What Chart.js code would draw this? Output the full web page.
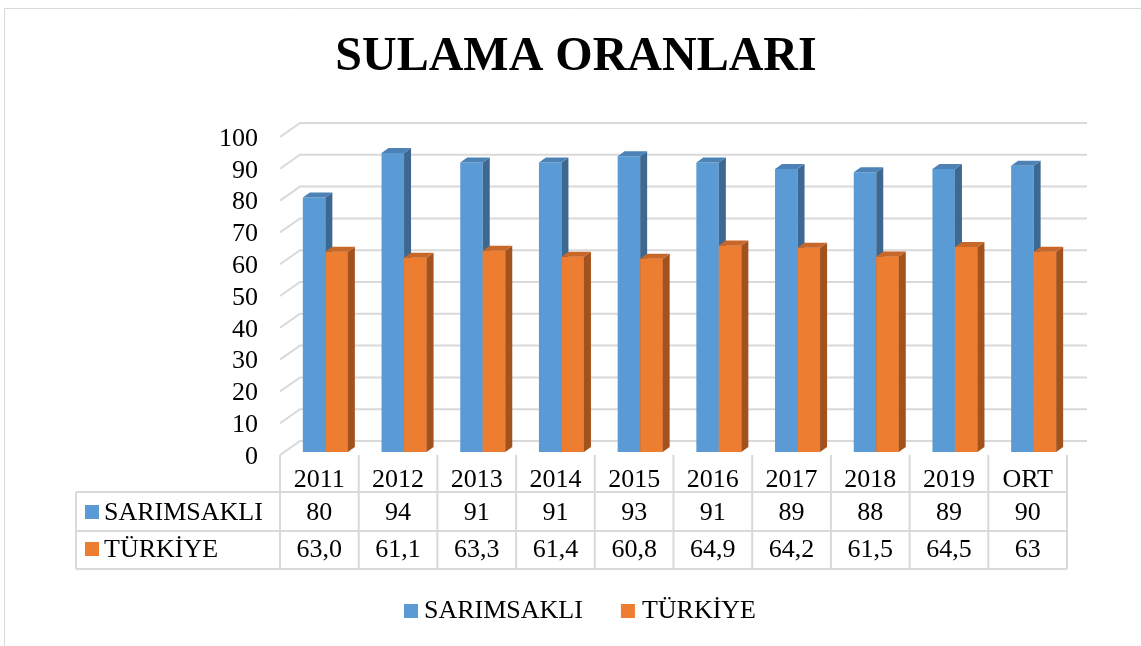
<!DOCTYPE html>
<html>
<head>
<meta charset="utf-8">
<script src="https://cdn.jsdelivr.net/npm/chart.js@4.4.0/dist/chart.umd.min.js"></script>
<style>
  body { margin: 0; background: #fff; }
</style>
</head>
<body>
<canvas id="chartSulama" width="1141" height="646"></canvas>
<script>
  /* Sulama Oranlari */
  const categories = ['2011', '2012', '2013', '2014', '2015', '2016', '2017', '2018', '2019', 'ORT'];
  const sarimsakli = [80, 94, 91, 91, 93, 91, 89, 88, 89, 90];
  const turkiye = [63.0, 61.1, 63.3, 61.4, 60.8, 64.9, 64.2, 61.5, 64.5, 63];
  const turkiyeDigits = [1, 1, 1, 1, 1, 1, 1, 1, 1, 0];
  const yTicks = [0, 10, 20, 30, 40, 50, 60, 70, 80, 90, 100];
  const seriesNames = ['SARIMSAKLI', 'TÜRKİYE'];

  const frontColors = ['#5B9BD5', '#ED7D31'];
  const sideColors = ['#3D6891', '#A2521D'];
  const topColors = ['#4D82B6', '#C8672A'];
  const gridColor = '#D9D9D9';
  const serif = "'Liberation Serif', 'Times New Roman', serif";

  const fmt = (v, d) => v.toFixed(d).replace('.', ',');
  const tableRows = [
    sarimsakli.map((v) => fmt(v, 0)),
    turkiye.map((v, i) => fmt(v, turkiyeDigits[i])),
  ];

  // offsets of the fake 3d look
  const shift = { x: 6, y: -2 };
  const depth = { x: 7, y: -5 };
  const wall = { x: 20, y: -14 };

  const drawFaces = (ctx, meta, i) => {
    meta.data.forEach((bar) => {
      const p = bar.getProps(['x', 'y', 'base', 'width'], true);
      const left = p.x - p.width / 2;
      const right = p.x + p.width / 2;
      ctx.fillStyle = sideColors[i];
      ctx.beginPath();
      ctx.moveTo(right, p.y);
      ctx.lineTo(right + depth.x, p.y + depth.y);
      ctx.lineTo(right + depth.x, p.base + depth.y);
      ctx.lineTo(right, p.base);
      ctx.closePath();
      ctx.fill();
      ctx.fillStyle = topColors[i];
      ctx.beginPath();
      ctx.moveTo(left, p.y);
      ctx.lineTo(left + depth.x, p.y + depth.y);
      ctx.lineTo(right + depth.x, p.y + depth.y);
      ctx.lineTo(right, p.y);
      ctx.closePath();
      ctx.fill();
    });
  };

  const sulama3d = {
    id: 'sulama3d',
    beforeDraw(chart) {
      const ctx = chart.ctx;
      const area = chart.chartArea;
      const y = chart.scales.y;
      ctx.save();
      // marco
      ctx.strokeStyle = gridColor;
      ctx.lineWidth = 1;
      ctx.beginPath();
      ctx.moveTo(4.5, 646);
      ctx.lineTo(4.5, 8.5);
      ctx.lineTo(1141, 8.5);
      ctx.stroke();
      // titulo
      ctx.fillStyle = '#000';
      ctx.font = 'bold 48px ' + serif;
      ctx.textAlign = 'center';
      ctx.textBaseline = 'middle';
      ctx.fillText('SULAMA ORANLARI', 576, 58);
      // lineas de la pared
      ctx.strokeStyle = gridColor;
      ctx.lineWidth = 2;
      yTicks.forEach((v) => {
        const py = y.getPixelForValue(v) + 1;
        ctx.beginPath();
        ctx.moveTo(area.left, py);
        ctx.lineTo(area.left + wall.x, py + wall.y);
        ctx.lineTo(area.right + wall.x, py + wall.y);
        ctx.stroke();
      });
      ctx.restore();
    },
    beforeDatasetsDraw(chart) {
      chart.ctx.save();
      chart.ctx.translate(shift.x, shift.y);
    },
    afterDatasetsDraw(chart) {
      const ctx = chart.ctx;
      const metaBlue = chart.getDatasetMeta(0);
      const metaOrange = chart.getDatasetMeta(1);
      // caras del azul, luego se vuelve a pintar el naranja encima
      drawFaces(ctx, metaBlue, 0);
      metaOrange.data.forEach((bar) => bar.draw(ctx));
      drawFaces(ctx, metaOrange, 1);
      ctx.restore();
    },
    afterDraw(chart) {
      const ctx = chart.ctx;
      const area = chart.chartArea;
      const x = chart.scales.x;
      const colW = (area.right - area.left) / categories.length;
      const tableLeft = 76;
      const lines = [area.bottom + 1, area.bottom + 38, area.bottom + 77, area.bottom + 115];
      const baselines = [487, 520, 557];

      ctx.save();
      ctx.strokeStyle = gridColor;
      ctx.lineWidth = 2;
      // horizontales
      for (let r = 1; r < lines.length; r++) {
        ctx.beginPath();
        ctx.moveTo(tableLeft, lines[r]);
        ctx.lineTo(area.right, lines[r]);
        ctx.stroke();
      }
      // verticales
      for (let c = 0; c <= categories.length; c++) {
        const px = area.left + c * colW;
        ctx.beginPath();
        ctx.moveTo(px, lines[0]);
        ctx.lineTo(px, lines[3]);
        ctx.stroke();
      }
      ctx.beginPath();
      ctx.moveTo(tableLeft, lines[1]);
      ctx.lineTo(tableLeft, lines[3]);
      ctx.stroke();

      ctx.fillStyle = '#000';
      ctx.font = '26px ' + serif;
      ctx.textAlign = 'center';
      ctx.textBaseline = 'alphabetic';
      categories.forEach((c, i) => {
        const px = x.getPixelForValue(i);
        ctx.fillText(c, px, baselines[0]);
        ctx.fillText(tableRows[0][i], px, baselines[1]);
        ctx.fillText(tableRows[1][i], px, baselines[2]);
      });

      // cabeceras de fila
      ctx.textAlign = 'left';
      seriesNames.forEach((name, s) => {
        ctx.fillStyle = frontColors[s];
        ctx.fillRect(85, baselines[s + 1] - 15, 14, 14);
        ctx.fillStyle = '#000';
        ctx.fillText(name, 104, baselines[s + 1]);
      });

      // leyenda
      const w0 = ctx.measureText(seriesNames[0]).width;
      const w1 = ctx.measureText(seriesNames[1]).width;
      const total = 14 + 6 + w0 + 38 + 14 + 7 + w1;
      let lx = 580 - total / 2;
      const ly = 618;
      ctx.fillStyle = frontColors[0];
      ctx.fillRect(lx, ly - 14, 14, 14);
      ctx.fillStyle = '#000';
      ctx.fillText(seriesNames[0], lx + 20, ly);
      lx += 20 + w0 + 38;
      ctx.fillStyle = frontColors[1];
      ctx.fillRect(lx, ly - 14, 14, 14);
      ctx.fillStyle = '#000';
      ctx.fillText(seriesNames[1], lx + 21, ly);
      ctx.restore();
    },
  };

  const ctxSulama = document.getElementById('chartSulama').getContext('2d');
  const chartSulama = new Chart(ctxSulama, {
    type: 'bar',
    plugins: [sulama3d],
    data: {
      labels: categories,
      datasets: [
        {
          label: seriesNames[0],
          data: sarimsakli,
          backgroundColor: frontColors[0],
          borderWidth: 0,
          barPercentage: 1,
          categoryPercentage: 0.572,
        },
        {
          label: seriesNames[1],
          data: turkiye,
          backgroundColor: frontColors[1],
          borderWidth: 0,
          barPercentage: 1,
          categoryPercentage: 0.572,
        },
      ],
    },
    options: {
      responsive: false,
      animation: false,
      layout: {
        padding: { top: 136, bottom: 192, left: 0, right: 74 },
      },
      plugins: {
        legend: { display: false },
        title: { display: false },
        tooltip: { enabled: false },
      },
      scales: {
        x: { display: false },
        y: {
          min: 0,
          max: 100,
          ticks: {
            stepSize: 10,
            autoSkip: false,
            padding: 22,
            labelOffset: 3,
            color: '#000',
            font: { family: serif, size: 26 },
          },
          grid: { display: false, drawTicks: false },
          border: { display: false },
          afterFit: (scale) => {
            scale.width = 280;
          },
        },
      },
    },
  });
</script>
</body>
</html>
